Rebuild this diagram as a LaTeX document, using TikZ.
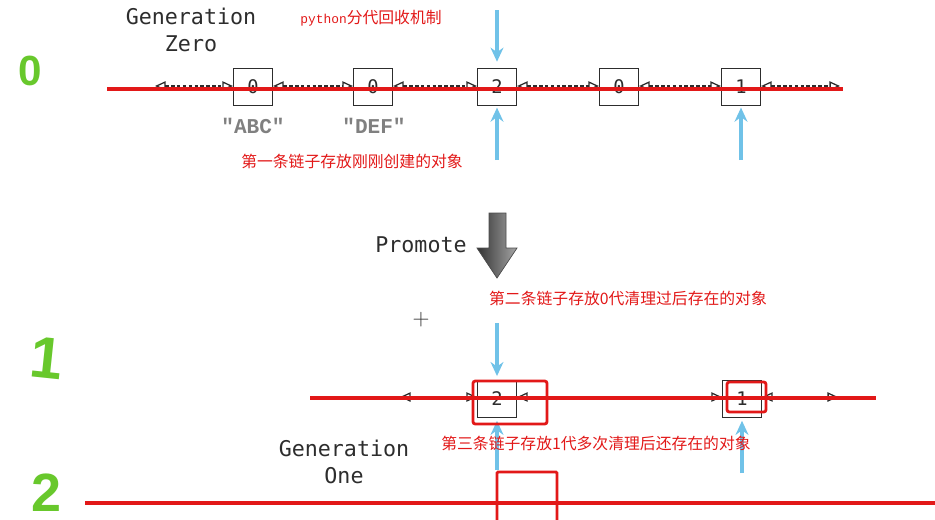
\documentclass[tikz,border=0pt]{standalone}
\usepackage{fontspec}
\setmonofont{DejaVu Sans Mono}
\setsansfont{Liberation Sans}
\newfontfamily\cjk{Noto Sans CJK SC}
\newfontfamily\courier{Liberation Mono}
\usetikzlibrary{arrows.meta}
\definecolor{markred}{RGB}{226,24,24}
\definecolor{linkblue}{RGB}{112,194,232}
\definecolor{handgreen}{RGB}{104,200,44}
\definecolor{inkgray}{RGB}{45,45,45}
\tikzset{
  obj/.style={draw=inkgray, fill=white, line width=1.3pt, minimum width=1.16cm, minimum height=1.12cm,
    inner sep=0pt, text=inkgray, font=\ttfamily\fontsize{16}{16}\selectfont},
  link/.style={draw=inkgray, line width=1pt, dash pattern=on 3pt off 2pt,
    {Triangle[open,length=9pt,width=8pt,line width=1.1pt]}-{Triangle[open,length=9pt,width=8pt,line width=1.1pt]}},
  ref/.style={draw=linkblue, line width=2.8pt, -{Stealth[length=12pt,width=11pt]}},
  chain/.style={draw=markred, line width=3.2pt},
  hilite/.style={draw=markred, line width=2.4pt, rounded corners=2pt},
  note/.style={text=markred, font=\cjk\fontsize{13.5}{16}\selectfont},
  title/.style={text=inkgray, align=center, font=\ttfamily\fontsize{18.5}{23}\selectfont},
  strval/.style={text=gray, font=\courier\bfseries\fontsize{18}{18}\selectfont},
  hand/.style={text=handgreen, inner sep=0pt, font=\sffamily\bfseries\fontsize{#1}{#1}\selectfont}
}
\begin{document}
\begin{tikzpicture}[x=0.03cm,y=-0.03cm]
  \useasboundingbox (0,0) rectangle (935,519);
  % generation zero
  \node[title] (gz) at (191,30) {Generation\\Zero};
  \node[note] (head) at (371,18) {{\courier\fontsize{11}{11}\selectfont python}分代回收机制};
  \node[hand=36] (g0) at (30,71) {0};
  \node[obj] (z0) at (253,87) {0};
  \node[obj] (z1) at (373,87) {0};
  \node[obj] (z2) at (497,87) {2};
  \node[obj] (z3) at (619,87) {0};
  \node[obj] (z4) at (741,87) {1};
  \coordinate (zl) at (155,86);
  \coordinate (zr) at (840,86);
  \begin{scope}
    \draw[link] (zl) -- (z0.west |- zl);
    \draw[link] (z0.east |- zl) -- (z1.west |- zl);
    \draw[link] (z1.east |- zl) -- (z2.west |- zl);
    \draw[link] (z2.east |- zl) -- (z3.west |- zl);
    \draw[link] (z3.east |- zl) -- (z4.west |- zl);
    \draw[link] (z4.east |- zl) -- (zr);
  \end{scope}
  \node[strval] (abc) at (253,126) {"ABC"};
  \node[strval] (def) at (374,126) {"DEF"};
  \coordinate (z2in) at (497,10);
  \coordinate (z2out) at (497,160);
  \coordinate (z4out) at (741,160);
  \draw[ref, shorten >=5pt] (z2in) -- (z2.north);
  \draw[ref, shorten >=1pt] (z2out) -- (z2.south);
  \draw[ref, shorten >=1pt] (z4out) -- (z4.south);
  \coordinate (c0a) at (107,89);
  \coordinate (c0b) at (843,89);
  \draw[chain] (c0a) -- (c0b);
  \node[note] (n0) at (352,161) {第一条链子存放刚刚创建的对象};
  % promote
  \node[title] (pm) at (421,245) {Promote};
  \shade[left color=black!80, right color=black!35, draw=black!70, line width=0.6pt]
    (489,213) -- (506,213) -- (506,248) -- (517,248) -- (497,278) -- (477,248) -- (489,248) -- cycle;
  \node[note] (n1) at (628,298) {第二条链子存放0代清理过后存在的对象};
  \node[text=inkgray, font=\fontsize{20}{20}\selectfont] (cur) at (421,320) {+};
  % generation one
  \node[hand=50, rotate=-6] (g1) at (47,358) {1};
  \node[obj] (o0) at (497,399) {2};
  \node[obj] (o1) at (742,399) {1};
  \coordinate (ol) at (400,397);
  \coordinate (or) at (838,397);
  \begin{scope}
    \draw[link] (ol) -- (o0.west |- ol);
    \draw[link] (o0.east |- ol) -- (o1.west |- ol);
    \draw[link] (o1.east |- ol) -- (or);
  \end{scope}
  \coordinate (o0in) at (497,323);
  \coordinate (o0out) at (497,470);
  \coordinate (o1out) at (742,473);
  \draw[ref, shorten >=3pt] (o0in) -- (o0.north);
  \draw[ref, shorten >=2pt] (o0out) -- (o0.south);
  \draw[ref, shorten >=2pt] (o1out) -- (o1.south);
  \coordinate (c1a) at (310,398);
  \coordinate (c1b) at (876,398);
  \draw[chain] (c1a) -- (c1b);
  \draw[hilite] (473,381) rectangle (547,424);
  \draw[hilite] (727,382) rectangle (766,412);
  \node[note] (n2) at (596,443) {第三条链子存放1代多次清理后还存在的对象};
  \node[title] (go) at (344,462) {Generation\\One};
  % generation two
  \node[hand=46] (g2) at (46,493) {2};
  \coordinate (c2a) at (85,503);
  \coordinate (c2b) at (935,503);
  \draw[chain] (c2a) -- (c2b);
  \draw[hilite, rounded corners=1pt] (497,525) -- (497,472) -- (557,472) -- (557,525);
\end{tikzpicture}
\end{document}
